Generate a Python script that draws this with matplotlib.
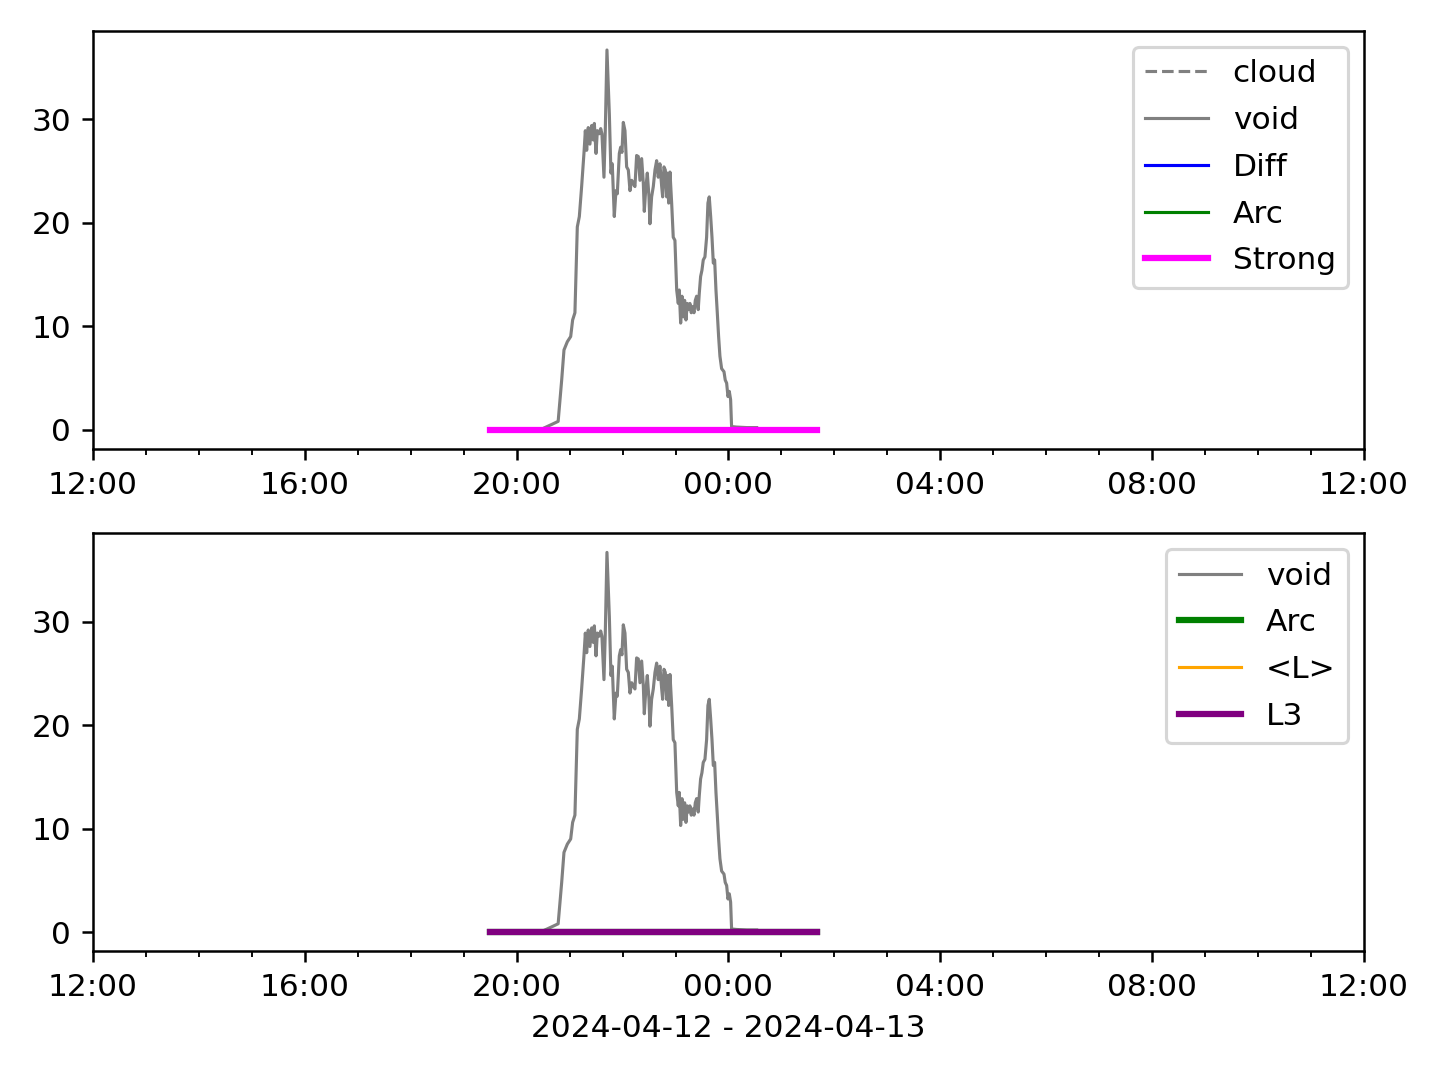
import matplotlib
matplotlib.use("Agg")
import matplotlib.pyplot as plt
import matplotlib.dates as mdates
import numpy as np
from datetime import datetime, timedelta

base = datetime(2024, 4, 12, 12, 0)

# minutes after 2024-04-12 12:00 and values of the "void" series
void_min = [512, 519.6, 527, 531, 533.6, 537.4, 541.2, 543.4, 546, 548.7, 551, 553.6,
            556.3, 557.8, 559.3, 561.1, 563, 565, 566.8, 568, 569.9, 571.4, 573.6, 575.2,
            576.6, 578.9, 580.4, 582.3, 585, 586.8, 588.3, 590.6, 592.5, 594, 596.3, 597.8,
            599.3, 600.8, 602.7, 604.6, 606.5, 608.4, 610.3, 612.1, 614, 615.9, 617.8, 619.7,
            621.6, 623.5, 624.6, 626.1, 628, 629.9, 631, 632.9, 634.8, 636.7, 638.6, 640.4,
            642.3, 644.3, 645.4, 646.9, 648.4, 649.9, 651.1, 652.2, 653.7, 655.6, 657.4, 659.3,
            661.3, 663.1, 664.2, 665.8, 667.3, 668.8, 670.3, 671.8, 673.3, 674.8, 676.3, 677.8,
            679.4, 680.9, 682.4, 683.9, 685.7, 686.9, 688.4, 689.9, 691.4, 693.3, 695.2, 696.7,
            698.2, 699.8, 701.3, 702.8, 704.3, 705.8, 707.3, 708.8, 710.3, 712.2, 714.9, 716.3,
            717.9, 719.4, 720.9, 722.4, 723.5, 729.2, 740.6, 751.9]
void_val = [0.2, 0.5, 0.8, 4.8, 7.7, 8.5, 9.0, 10.6, 11.3, 19.6, 20.6, 23.5,
            26.8, 28.9, 27.0, 29.2, 27.6, 29.4, 28.0, 29.6, 26.7, 28.9, 28.6, 29.1,
            28.6, 24.4, 28.9, 36.7, 30.5, 24.8, 25.7, 20.6, 23.1, 22.8, 26.7, 27.3,
            26.8, 29.7, 28.9, 25.4, 25.1, 23.1, 24.1, 23.8, 23.5, 26.5, 26.4, 24.1,
            26.2, 23.8, 21.1, 23.1, 24.8, 22.5, 19.9, 22.5, 23.5, 25.1, 26.0, 24.4,
            25.7, 23.5, 22.5, 25.4, 25.1, 22.5, 24.8, 21.9, 24.9, 21.9, 18.6, 18.3,
            13.5, 12.2, 13.5, 10.3, 12.9, 10.9, 12.5, 10.6, 12.2, 11.6, 12.2, 11.3,
            11.9, 11.3, 12.5, 12.9, 11.6, 13.2, 14.8, 15.4, 16.4, 16.7, 18.6, 21.9,
            22.5, 20.6, 18.6, 16.1, 16.4, 13.5, 11.3, 9.0, 7.1, 5.9, 5.6, 4.8,
            4.5, 3.2, 3.7, 2.9, 0.3, 0.25, 0.2, 0.2]

# flat series (start / end minutes after 12:00, value)
flat_min = [450, 820]
flat_val = [0.0, 0.0]

void_t = [base + timedelta(minutes=m) for m in void_min]
flat_t = [base + timedelta(minutes=m) for m in flat_min]

fig, axes = plt.subplots(2, 1, figsize=(6.4, 4.8), dpi=225)
fig.subplots_adjust(left=0.0646, right=0.9472, top=0.9713, bottom=0.1194, hspace=0.203)

ax = axes[0]
ax.plot(flat_t, [np.nan, np.nan], "--", color="gray", lw=1, label="cloud")
ax.plot(void_t, void_val, color="gray", lw=1, label="void")
ax.plot(flat_t, flat_val, color="blue", lw=1, label="Diff")
ax.plot(flat_t, flat_val, color="green", lw=1, label="Arc")
ax.plot(flat_t, flat_val, color="magenta", lw=2, label="Strong")
ax.legend(loc="upper right", labelspacing=0.57)

ax = axes[1]
ax.plot(void_t, void_val, color="gray", lw=1, label="void")
ax.plot(flat_t, flat_val, color="green", lw=2, label="Arc")
ax.plot(flat_t, flat_val, color="orange", lw=1, label="<L>")
ax.plot(flat_t, flat_val, color="purple", lw=2, label="L3")
ax.legend(loc="upper right", labelspacing=0.57)
ax.set_xlabel("2024-04-12 - 2024-04-13")

for ax in axes:
    ax.set_xlim(base, base + timedelta(hours=24))
    ax.xaxis.set_major_locator(mdates.HourLocator(byhour=[0, 4, 8, 12, 16, 20]))
    ax.xaxis.set_minor_locator(mdates.HourLocator())
    ax.xaxis.set_major_formatter(mdates.DateFormatter("%H:%M"))

fig.savefig("out.png")
